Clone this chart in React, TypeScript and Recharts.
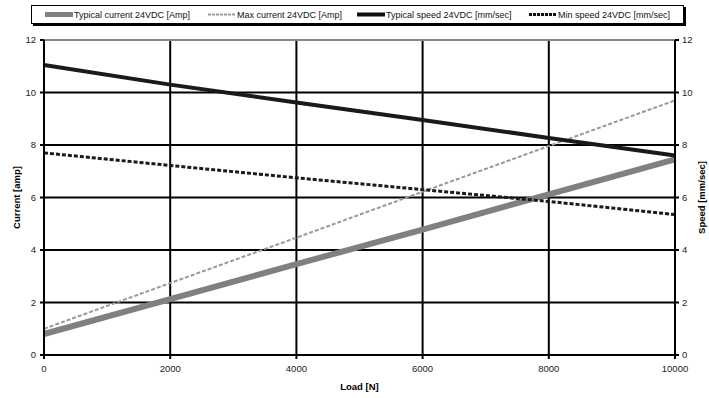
import React from 'react';
import { LineChart, Line, XAxis, YAxis, CartesianGrid, ReferenceLine } from 'recharts';

const loads = [0, 2000, 4000, 6000, 8000, 10000];
const typicalCurrent = [0.8, 2.13, 3.46, 4.78, 6.12, 7.45];
const maxCurrent = [1.0, 2.74, 4.47, 6.22, 7.96, 9.7];
const typicalSpeed = [11.05, 10.3, 9.62, 8.95, 8.27, 7.6];
const minSpeed = [7.7, 7.22, 6.75, 6.3, 5.85, 5.35];
const xTicks = [0, 2000, 4000, 6000, 8000, 10000];
const yTicks = [0, 2, 4, 6, 8, 10, 12];
const seriesNames = [
  'Typical current 24VDC [Amp]',
  'Max current 24VDC [Amp]',
  'Typical speed 24VDC [mm/sec]',
  'Min  speed 24VDC [mm/sec]',
];

const data = loads.map((l, i) => ({
  load: l,
  tc: typicalCurrent[i],
  mc: maxCurrent[i],
  ts: typicalSpeed[i],
  ms: minSpeed[i],
}));

const FONT = 'Liberation Sans, Arial, Helvetica, sans-serif';
const tickStyle = { fontSize: 9.5, fill: '#222', fontFamily: FONT };

const legendItems = [
  { name: seriesNames[0], x: 45, color: '#808080', w: 5, dash: undefined as string | undefined },
  { name: seriesNames[1], x: 208, color: '#9a9a9a', w: 2, dash: '3 1' },
  { name: seriesNames[2], x: 357, color: '#111', w: 4, dash: undefined },
  { name: seriesNames[3], x: 529, color: '#111', w: 3, dash: '3 1' },
];

export default function App() {
  return (
    <div style={{ position: 'absolute', left: 0, top: 0, width: 709, height: 398, background: '#fff', fontFamily: FONT }}>
      <LineChart width={709} height={398} data={data} margin={{ top: 40, right: 0, bottom: 0, left: 0 }} style={{ fontFamily: FONT }}>
        <CartesianGrid yAxisId="left" stroke="#000" strokeWidth={2} />
        <XAxis
          dataKey="load"
          type="number"
          domain={[0, 10000]}
          ticks={xTicks}
          height={43}
          stroke="#000"
          strokeWidth={2}
          tickSize={4}
          tickMargin={6}
          tick={tickStyle}
          label={(p: any) => {
            const vb = p.viewBox;
            return (
              <text x={vb.x + vb.width / 2} y={390} textAnchor="middle" fontSize={9.5} fontWeight="bold" fontFamily={FONT} fill="#000">
                Load [N]
              </text>
            );
          }}
        />
        <YAxis
          yAxisId="left"
          type="number"
          domain={[0, 12]}
          ticks={yTicks}
          width={44}
          stroke="#000"
          strokeWidth={2}
          tickSize={4}
          tickMargin={4}
          tick={tickStyle}
          label={(p: any) => {
            const vb = p.viewBox;
            const cy = vb.y + vb.height / 2;
            return (
              <text x={16} y={cy} transform={`rotate(-90 16 ${cy})`} textAnchor="middle" dominantBaseline="central" fontSize={9.5} fontWeight="bold" fontFamily={FONT} fill="#000">
                Current [amp]
              </text>
            );
          }}
        />
        <YAxis
          yAxisId="right"
          orientation="right"
          type="number"
          domain={[0, 12]}
          ticks={yTicks}
          width={34}
          stroke="#000"
          strokeWidth={2}
          tickSize={4}
          tickMargin={3}
          tick={tickStyle}
          label={(p: any) => {
            const vb = p.viewBox;
            const cy = vb.y + vb.height / 2;
            return (
              <text x={701} y={cy} transform={`rotate(-90 701 ${cy})`} textAnchor="middle" dominantBaseline="central" fontSize={9.5} fontWeight="bold" fontFamily={FONT} fill="#000">
                Speed [mm/sec]
              </text>
            );
          }}
        />
        <ReferenceLine yAxisId="left" y={12} stroke="#888" strokeWidth={2} />
        <Line yAxisId="left" dataKey="tc" stroke="#808080" strokeWidth={6} dot={false} isAnimationActive={false} />
        <Line yAxisId="left" dataKey="mc" stroke="#999" strokeWidth={2} strokeDasharray="4 2" dot={false} isAnimationActive={false} />
        <Line yAxisId="right" dataKey="ts" stroke="#1a1a1a" strokeWidth={4} dot={false} isAnimationActive={false} />
        <Line yAxisId="right" dataKey="ms" stroke="#1a1a1a" strokeWidth={3} strokeDasharray="4 2" dot={false} isAnimationActive={false} />
      </LineChart>
      <div
        style={{
          position: 'absolute',
          left: 31,
          top: 5,
          width: 651,
          height: 17,
          border: '1px solid #000',
          boxShadow: '2px 2px 0 #000',
          background: '#fff',
        }}
      >
        <svg width={651} height={17} style={{ position: 'absolute', left: 0, top: 0 }}>
          {legendItems.map((it) => (
            <g key={it.name}>
              <line x1={it.x - 32} x2={it.x - 32 + 28} y1={8.5} y2={8.5} stroke={it.color} strokeWidth={it.w} strokeDasharray={it.dash} />
              <text x={it.x - 32 + 29} y={8.5} dominantBaseline="central" fontSize={9} fontFamily={FONT} fill="#111">
                {it.name}
              </text>
            </g>
          ))}
        </svg>
      </div>
    </div>
  );
}
